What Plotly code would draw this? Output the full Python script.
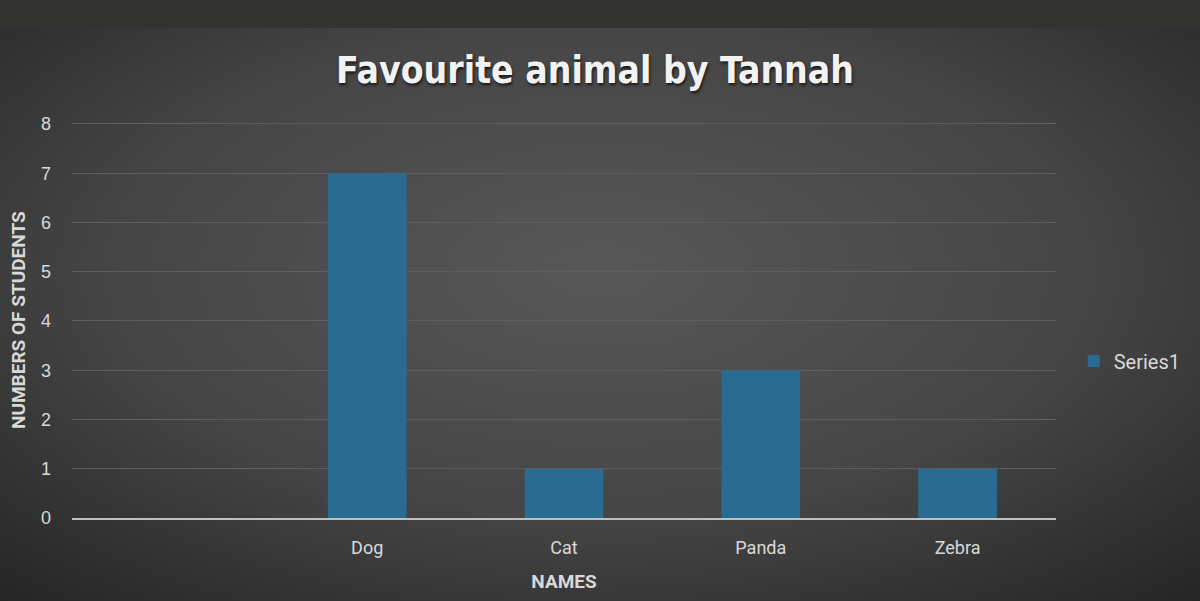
import plotly.graph_objects as go
import urllib.parse

categories = [" ", "Dog", "Cat", "Panda", "Zebra"]
values = [None, 7, 1, 3, 1]
series_name = "Series1"
title_text = "Favourite animal by Tannah"
x_title = "NAMES"
y_title = "NUMBERS OF STUDENTS"
y_ticks = [0, 1, 2, 3, 4, 5, 6, 7, 8]

W, H = 1200, 601
L, R, T, B = 72, 144, 119, 83
pw, ph = W - L - R, H - T - B

svg = f'''<svg xmlns="http://www.w3.org/2000/svg" width="{W}" height="{H}" viewBox="0 0 {W} {H}" preserveAspectRatio="none">
<defs><radialGradient id="g" cx="50%" cy="45%" r="75%" gradientUnits="objectBoundingBox">
<stop offset="0" stop-color="#585858"/><stop offset="0.55" stop-color="#454545"/><stop offset="1" stop-color="#242424"/>
</radialGradient></defs>
<rect x="0" y="0" width="{W}" height="{H}" fill="url(#g)"/>
<rect x="0" y="0" width="{W}" height="28" fill="#333331"/>
</svg>'''
src = "data:image/svg+xml;charset=utf-8," + urllib.parse.quote(svg)

fig = go.Figure()
fig.add_trace(go.Bar(
    x=categories, y=values, name=series_name, width=0.4,
    marker=dict(color="#2a6b92", line=dict(width=0)),
    showlegend=True,
))

fig.add_layout_image(dict(
    source=src, xref="paper", yref="paper",
    x=-L / pw, y=1 + T / ph, sizex=W / pw, sizey=H / ph,
    xanchor="left", yanchor="top", sizing="stretch", layer="below",
))

fig.add_annotation(
    text=y_title, xref="paper", yref="paper", x=-(L - 18) / pw, y=(518 - 320) / (518 - T),
    xanchor="center", yanchor="middle", textangle=-90, showarrow=False,
    font=dict(family="Roboto, sans-serif", size=19, color="#d9d9d9", weight="bold"),
)

fig.update_layout(
    width=W, height=H,
    margin=dict(l=L, r=R, t=T, b=B),
    paper_bgcolor="#3a3a3a", plot_bgcolor="rgba(0,0,0,0)",
    title=dict(text=title_text, x=595 / W, xanchor="center", y=1 - 70 / H, yanchor="middle",
               font=dict(family="DejaVu Sans Condensed, Liberation Sans Narrow, sans-serif", size=37,
                         color="#f2f2f2", weight="bold",
                         shadow="1px 2px 3px rgba(0,0,0,0.7)")),
    showlegend=True,
    legend=dict(x=1.018, xanchor="left", y=(518 - 361) / (518 - T), yanchor="middle", xref="paper",
                font=dict(family="Liberation Sans Narrow, Roboto, sans-serif", size=20, color="#d9d9d9"),
                bgcolor="rgba(0,0,0,0)", itemwidth=30),
    bargap=0.6,
    xaxis=dict(
        type="category", categoryorder="array", categoryarray=categories,
        range=[-0.5, 4.5], showgrid=False, zeroline=False,
        showline=True, linecolor="#bfbfbf", linewidth=2,
        ticks="", tickfont=dict(family="Roboto, sans-serif", size=18, color="#d9d9d9"),
        ticklabelstandoff=12,
        title=dict(text=x_title, standoff=18,
                   font=dict(family="Roboto, sans-serif", size=19, color="#d9d9d9", weight="bold")),
    ),
    yaxis=dict(
        range=[0, 8.1], tickvals=y_ticks, showgrid=True, gridcolor="#5e5e5e", gridwidth=1,
        zeroline=False, showline=False, ticks="",
        tickfont=dict(family="Liberation Sans, Arial, sans-serif", size=18, color="#d9d9d9"),
        ticklabelstandoff=20,
    ),
)

fig.write_html("out.html", config={"displayModeBar": False},
               post_script="document.body.style.margin='0';document.body.style.overflow='hidden';")
